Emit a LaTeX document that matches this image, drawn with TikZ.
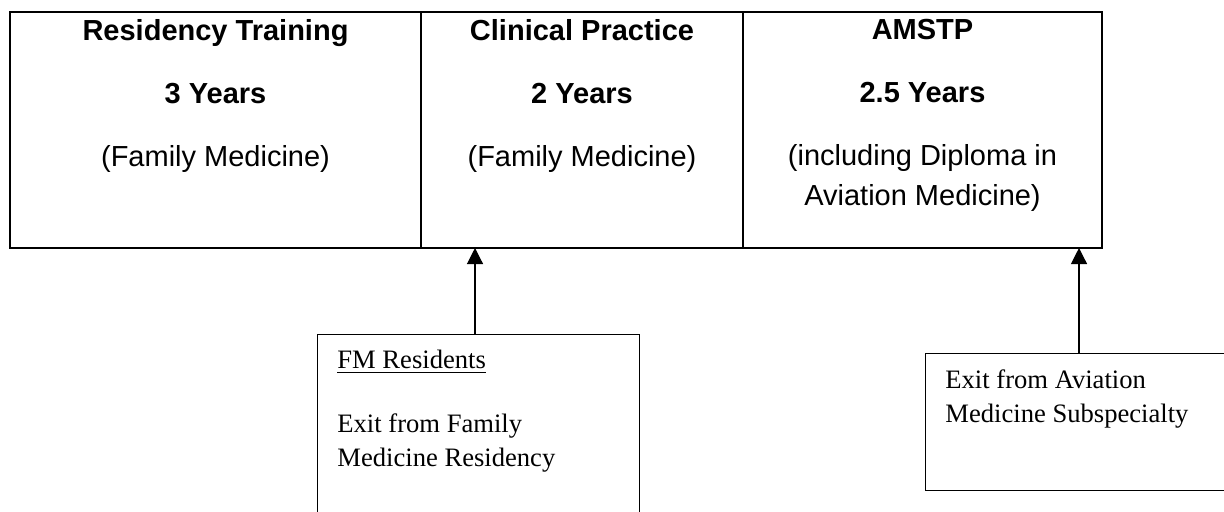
\documentclass[tikz,border=0pt]{standalone}
\usepackage{fontspec}
\setmainfont{Liberation Serif}
\newfontfamily\arialfont{Liberation Sans}
\usetikzlibrary{positioning,calc,arrows.meta}

\begin{document}
\begin{tikzpicture}[x=0.5pt,y=-0.5pt,
  cell/.style={draw, line width=0.7pt, inner sep=0pt, outer sep=0pt, minimum height=118pt, anchor=north west},
  celltext/.style={align=center, inner sep=0pt, anchor=north, font=\arialfont\fontsize{14.5}{20}\selectfont},
  exitbox/.style={draw, line width=0.5pt, inner sep=0pt, outer sep=0pt, anchor=north west},
  exittext/.style={align=left, inner sep=0pt, anchor=north west, font=\fontsize{13.3}{17}\selectfont},
  link/.style={line width=0.6pt, -{Triangle[length=8pt,width=8pt]}}]
\useasboundingbox (0,0) rectangle (1224,511);
\clip (0,0) rectangle (1224,511);
% training path
\node [cell, minimum width=205.5pt] (res) at (10,12) {};
\node [cell, minimum width=161pt, right=0pt of res] (clin) {};
\node [cell, minimum width=179.5pt, right=0pt of clin] (amstp) {};
\node [celltext] (restxt) at ($(res.north)+(0,7)$) {\textbf{Residency Training}\\[11.5pt]\textbf{3 Years}\\[11.5pt](Family Medicine)};
\node [celltext] (clintxt) at ($(clin.north)+(0,7)$) {\textbf{Clinical Practice}\\[11.5pt]\textbf{2 Years}\\[11.5pt](Family Medicine)};
\node [celltext] (amstptxt) at ($(amstp.north)+(0,7)$) {\textbf{AMSTP}\\[11.5pt]\textbf{2.5 Years}\\[11.5pt](including Diploma in\\Aviation Medicine)};
% exits
\node [exitbox, minimum width=161pt, minimum height=100pt] (fmbox) at (317,334) {};
\node [exittext] (fmtxt) at ($(fmbox.north west)+(20,16)$) {\underline{FM Residents}\\[15pt]Exit from Family\\Medicine Residency};
\node [exitbox, minimum width=154pt, minimum height=68.5pt] (avbox) at (925,353) {};
\node [exittext] (avtxt) at ($(avbox.north west)+(20,16)$) {Exit from Aviation\\Medicine Subspecialty};
\draw [link] ([xshift=-1.5pt]fmbox.north) -- ([xshift=-1.5pt]fmbox.north |- clin.south);
\draw [link] (avbox.north) -- (avbox.north |- amstp.south);
\end{tikzpicture}
\end{document}
